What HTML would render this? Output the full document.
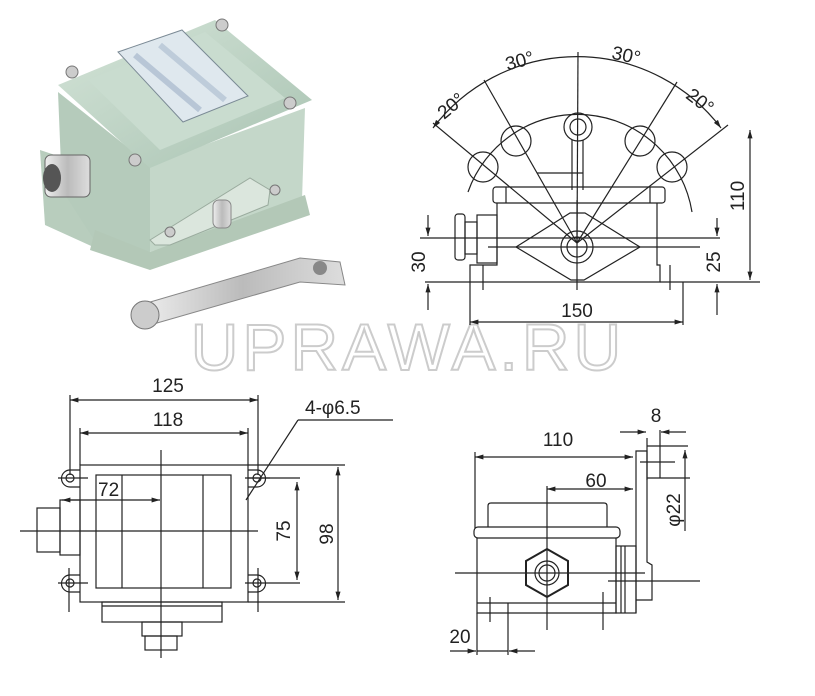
<!DOCTYPE html>
<html><head><meta charset="utf-8"><style>
html,body{margin:0;padding:0;background:#fff;}
svg{display:block;}
text{font-family:"Liberation Sans",sans-serif;fill:#222;}
</style></head><body>
<svg width="815" height="696" viewBox="0 0 815 696" xmlns="http://www.w3.org/2000/svg">
<defs>
<marker id="a" viewBox="0 0 10 10" refX="10" refY="5" markerWidth="7" markerHeight="7" orient="auto-start-reverse"><path d="M0,2 L10,5 L0,8 z" fill="#222"/></marker>
<linearGradient id="g1" x1="0" y1="0" x2="1" y2="1"><stop offset="0" stop-color="#d4e4d8"/><stop offset="1" stop-color="#a9c3b2"/></linearGradient>
<linearGradient id="g2" x1="0" y1="0" x2="1" y2="0"><stop offset="0" stop-color="#eee"/><stop offset="0.5" stop-color="#bbb"/><stop offset="1" stop-color="#ddd"/></linearGradient>
</defs>

<!-- PHOTO -->
<g>
<polygon points="40,150 100,170 100,250 45,225" fill="#b8cdbd"/>
<polygon points="58,92 150,165 150,252 98,246 62,190" fill="#b5cbbb"/>
<polygon points="150,165 305,108 302,200 150,252" fill="#c4d7c9"/>
<polygon points="95,230 150,252 305,195 310,215 150,270 90,250" fill="#b3c8b7"/>
<polygon points="58,85 215,20 312,100 150,168" fill="url(#g1)"/>
<polygon points="88,80 205,32 285,98 160,150" fill="#c9dccf"/>
<polygon points="118,52 182,30 248,96 183,122" fill="#dfe8ee" stroke="#7b8a95"/>
<line x1="135" y1="55" x2="200" y2="110" stroke="#9fb1c7" stroke-width="6" opacity=".6"/>
<line x1="160" y1="45" x2="225" y2="100" stroke="#9fb1c7" stroke-width="6" opacity=".5"/>
<polygon points="150,240 250,178 270,190 268,205 170,245 155,245" fill="#dbe6dd" stroke="#9aab9e"/>
<rect x="213" y="200" width="18" height="28" rx="6" fill="url(#g2)" stroke="#888"/>
<circle cx="72" cy="72" r="6" fill="#ccc" stroke="#777"/>
<circle cx="222" cy="25" r="6" fill="#ccc" stroke="#777"/>
<circle cx="290" cy="103" r="6" fill="#ccc" stroke="#777"/>
<circle cx="135" cy="160" r="6" fill="#ccc" stroke="#777"/>
<circle cx="275" cy="190" r="5" fill="#ccc" stroke="#777"/>
<circle cx="170" cy="232" r="5" fill="#ccc" stroke="#777"/>
<rect x="45" y="155" width="45" height="42" rx="6" fill="url(#g2)" stroke="#666"/>
<ellipse cx="52" cy="178" rx="9" ry="14" fill="#555"/>
<polygon points="140,305 300,258 340,262 345,285 300,282 150,325" fill="url(#g2)" stroke="#888"/>
<circle cx="145" cy="315" r="14" fill="#ccc" stroke="#777"/>
<circle cx="320" cy="268" r="7" fill="#888"/>
</g>

<!-- WATERMARK -->
<text x="408" y="370" font-size="66" text-anchor="middle" style="fill:none;stroke:#ccc;stroke-width:2;letter-spacing:4px">UPRAWA.RU</text>

<!-- TOP RIGHT DIAGRAM -->
<g stroke="#222" stroke-width="1.2" fill="none">
<path d="M468,192 A116,116 0 0 1 692,212"/>
<path d="M433,128 A181,181 0 0 1 721,128" marker-start="url(#a)" marker-end="url(#a)"/>
<line x1="577" y1="243" x2="433" y2="123"/>
<line x1="577" y1="243" x2="484" y2="80"/>
<line x1="577" y1="243" x2="578" y2="52"/>
<line x1="577" y1="243" x2="677" y2="82"/>
<line x1="577" y1="243" x2="728" y2="125"/>
<circle cx="578" cy="127" r="14"/><circle cx="578" cy="127" r="8"/>
<circle cx="516" cy="141" r="15"/><circle cx="483" cy="167" r="15"/>
<circle cx="640" cy="141" r="15"/><circle cx="672" cy="167" r="15"/>
<line x1="572" y1="140" x2="572" y2="190"/><line x1="583" y1="140" x2="583" y2="190"/>
<line x1="537" y1="173" x2="583" y2="173"/>
<rect x="493" y="187" width="172" height="16" rx="3"/>
<line x1="506" y1="187" x2="506" y2="203"/><line x1="650" y1="187" x2="650" y2="203"/>
<polyline points="497,203 497,265 470,265 470,282 660,282 660,265 657,265 657,203"/>
<line x1="483" y1="265" x2="483" y2="290"/><line x1="670" y1="265" x2="670" y2="290"/>
<path d="M516,247 L570,213 L585,213 L640,247 L584,280 L571,280 Z"/>
<circle cx="577" cy="247" r="16"/><circle cx="577" cy="247" r="10"/>
<rect x="455" y="214" width="10" height="46" rx="3"/>
<rect x="465" y="222" width="12" height="32"/>
<rect x="477" y="215" width="20" height="48"/>
<line x1="420" y1="238" x2="720" y2="238"/>
<line x1="488" y1="247" x2="700" y2="247"/>
<line x1="577" y1="200" x2="577" y2="290"/>
<line x1="425" y1="282" x2="470" y2="282"/>
<line x1="660" y1="282" x2="760" y2="282"/>
<line x1="428" y1="215" x2="428" y2="236" marker-end="url(#a)"/>
<line x1="428" y1="310" x2="428" y2="284" marker-end="url(#a)"/>
<line x1="717" y1="218" x2="717" y2="236" marker-end="url(#a)"/>
<line x1="717" y1="315" x2="717" y2="284" marker-end="url(#a)"/>
<line x1="750" y1="130" x2="750" y2="280" marker-start="url(#a)" marker-end="url(#a)"/>
<line x1="470" y1="282" x2="470" y2="325"/><line x1="683" y1="282" x2="683" y2="325"/>
<line x1="470" y1="322" x2="683" y2="322" marker-start="url(#a)" marker-end="url(#a)"/>
</g>
<g font-size="19">
<text x="434" y="112" transform="rotate(-40 450 102)">20°</text>
<text x="505" y="67" transform="rotate(-15 520 60)">30°</text>
<text x="612" y="62" transform="rotate(12 628 55)">30°</text>
<text x="688" y="108" transform="rotate(38 702 98)">20°</text>
<text x="577" y="317" text-anchor="middle">150</text>
<text transform="translate(744,196) rotate(-90)" text-anchor="middle">110</text>
<text transform="translate(720,262) rotate(-90)" text-anchor="middle">25</text>
<text transform="translate(425,262) rotate(-90)" text-anchor="middle">30</text>
</g>

<!-- BOTTOM LEFT DIAGRAM -->
<g stroke="#222" stroke-width="1.2" fill="none">
<line x1="70" y1="395" x2="70" y2="475"/><line x1="258" y1="395" x2="258" y2="475"/>
<line x1="70" y1="400" x2="258" y2="400" marker-start="url(#a)" marker-end="url(#a)"/>
<line x1="80" y1="428" x2="80" y2="465"/><line x1="248" y1="428" x2="248" y2="465"/>
<line x1="80" y1="433" x2="248" y2="433" marker-start="url(#a)" marker-end="url(#a)"/>
<rect x="80" y="465" width="168" height="137"/>
<rect x="96" y="475" width="135" height="113"/>
<line x1="122" y1="475" x2="122" y2="588"/><line x1="203" y1="475" x2="203" y2="588"/>
<line x1="161" y1="450" x2="161" y2="658"/>
<line x1="20" y1="531" x2="258" y2="531"/>
<path d="M80,470 L70,470 A8,8 0 0 0 70,487 L80,487"/><circle cx="70" cy="478" r="4"/>
<path d="M80,575 L70,575 A8,8 0 0 0 70,592 L80,592"/><circle cx="70" cy="583" r="4"/>
<path d="M248,470 L257,470 A8,8 0 0 1 257,487 L248,487"/><circle cx="257" cy="478" r="4"/>
<path d="M248,575 L257,575 A8,8 0 0 1 257,592 L248,592"/><circle cx="257" cy="583" r="4"/>
<line x1="58" y1="478" x2="88" y2="478"/><line x1="58" y1="583" x2="88" y2="583"/>
<line x1="69" y1="568" x2="69" y2="612"/><line x1="258" y1="568" x2="258" y2="612"/>
<line x1="245" y1="478" x2="270" y2="478"/><line x1="245" y1="583" x2="300" y2="583"/>
<line x1="62" y1="500" x2="160" y2="500" marker-start="url(#a)" marker-end="url(#a)"/>
<rect x="37" y="508" width="23" height="44"/><rect x="60" y="500" width="20" height="55"/>
<line x1="248" y1="478" x2="300" y2="478"/>
<line x1="297" y1="482" x2="297" y2="580" marker-start="url(#a)" marker-end="url(#a)"/>
<line x1="248" y1="465" x2="345" y2="465"/><line x1="248" y1="602" x2="345" y2="602"/>
<line x1="338" y1="467" x2="338" y2="600" marker-start="url(#a)" marker-end="url(#a)"/>
<line x1="393" y1="420" x2="298" y2="420"/><line x1="298" y1="420" x2="246" y2="500"/>
<rect x="102" y="602" width="120" height="20"/>
<line x1="102" y1="606" x2="222" y2="606"/>
<rect x="142" y="622" width="40" height="14"/><rect x="145" y="636" width="32" height="14"/>
</g>
<g font-size="19">
<text x="168" y="392" text-anchor="middle">125</text>
<text x="168" y="426" text-anchor="middle">118</text>
<text x="98" y="496">72</text>
<text x="305" y="414">4-φ6.5</text>
<text transform="translate(290,531) rotate(-90)" text-anchor="middle">75</text>
<text transform="translate(333,534) rotate(-90)" text-anchor="middle">98</text>
</g>

<!-- BOTTOM RIGHT DIAGRAM -->
<g stroke="#222" stroke-width="1.2" fill="none">
<line x1="475" y1="452" x2="475" y2="528"/>
<line x1="475" y1="457" x2="633" y2="457" marker-start="url(#a)" marker-end="url(#a)"/>
<line x1="547" y1="486" x2="547" y2="630"/>
<line x1="547" y1="489" x2="633" y2="489" marker-start="url(#a)" marker-end="url(#a)"/>
<path d="M488,527 L488,506 Q488,503 491,503 L604,503 Q607,503 607,506 L607,527"/>
<rect x="474" y="527" width="146" height="11" rx="4"/>
<polyline points="477,538 477,613 616,613 616,538"/>
<line x1="477" y1="603" x2="616" y2="603"/>
<rect x="616" y="546" width="20" height="67"/>
<line x1="621" y1="546" x2="621" y2="613"/><line x1="625" y1="546" x2="625" y2="613"/>
<polyline points="636,613 636,451 647,451 647,562 652,565 652,600 636,600"/>
<line x1="647" y1="438" x2="647" y2="480"/><line x1="660" y1="430" x2="660" y2="478"/>
<line x1="620" y1="432" x2="646" y2="432" marker-end="url(#a)"/>
<line x1="686" y1="432" x2="661" y2="432" marker-end="url(#a)"/>
<line x1="647" y1="446" x2="688" y2="446"/><line x1="647" y1="478" x2="690" y2="478"/>
<line x1="640" y1="462" x2="675" y2="462"/>
<line x1="685" y1="450" x2="685" y2="531" marker-start="url(#a)"/>
<polygon points="547,549 568,561 568,585 547,597 526,585 526,561" stroke-width="2"/>
<circle cx="547" cy="573" r="12"/><circle cx="547" cy="573" r="8"/>
<line x1="455" y1="573" x2="645" y2="573"/>
<line x1="608" y1="581" x2="700" y2="581"/>
<line x1="490" y1="597" x2="490" y2="622"/><line x1="603" y1="592" x2="603" y2="630"/>
<line x1="477" y1="613" x2="477" y2="655"/><line x1="508" y1="603" x2="508" y2="655"/>
<line x1="450" y1="651" x2="476" y2="651" marker-end="url(#a)"/>
<line x1="535" y1="651" x2="509" y2="651" marker-end="url(#a)"/>
<line x1="477" y1="651" x2="508" y2="651"/>
</g>
<g font-size="19">
<text x="558" y="446" text-anchor="middle">110</text>
<text x="596" y="487" text-anchor="middle">60</text>
<text x="656" y="422" text-anchor="middle">8</text>
<text transform="translate(680,510) rotate(-90)" text-anchor="middle">φ22</text>
<text x="460" y="643" text-anchor="middle">20</text>
</g>
</svg>
</body></html>
